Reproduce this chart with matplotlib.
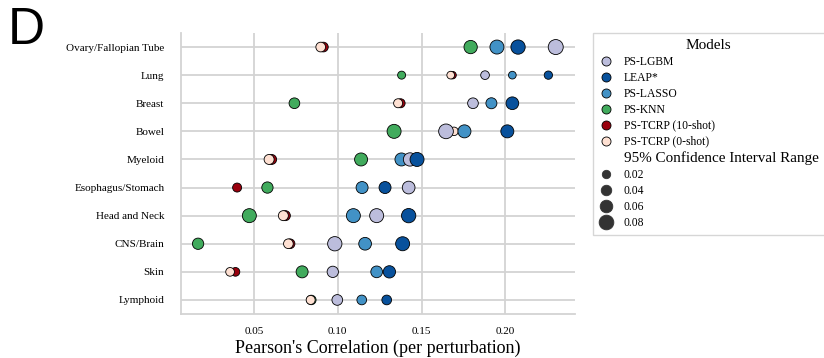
import numpy as np
import matplotlib
matplotlib.use("Agg")
import matplotlib.pyplot as plt
from matplotlib.lines import Line2D

nan = np.nan
categories = ["Ovary/Fallopian Tube", "Lung", "Breast", "Bowel", "Myeloid",
              "Esophagus/Stomach", "Head and Neck", "CNS/Brain", "Skin", "Lymphoid"]

models = ["PS-LGBM", "LEAP*", "PS-LASSO", "PS-KNN", "PS-TCRP (10-shot)", "PS-TCRP (0-shot)"]

lgbm = [0.2301, 0.1879, 0.1807, 0.1646, 0.1431, 0.1423, 0.1232, 0.0982, 0.0970, 0.0997]
leap = [0.2076, 0.2257, 0.2042, 0.2012, 0.1473, 0.1282, 0.1423, 0.1387, 0.1308, 0.1292]
lasso = [0.1950, 0.2042, 0.1917, 0.1756, 0.1380, 0.1145, 0.1093, 0.1163, 0.1232, 0.1143]
knn = [0.1793, 0.1381, 0.0741, 0.1336, 0.1139, 0.0580, 0.0472, 0.0166, 0.0787, 0.0842]
tcrp10 = [0.0914, 0.1685, 0.1375, nan, 0.0605, 0.0399, 0.0687, 0.0715, 0.0389, nan]
tcrp0 = [0.0898, 0.1674, 0.1360, 0.1694, 0.0590, nan, 0.0675, 0.0705, 0.0357, 0.0838]

ci_lgbm = [0.090, 0.027, 0.047, 0.087, 0.073, 0.067, 0.080, 0.083, 0.053, 0.047]
ci_leap = [0.083, 0.023, 0.067, 0.070, 0.080, 0.060, 0.083, 0.080, 0.063, 0.037]
ci_lasso = [0.080, 0.017, 0.050, 0.070, 0.070, 0.060, 0.080, 0.067, 0.057, 0.037]
ci_knn = [0.073, 0.020, 0.047, 0.080, 0.070, 0.053, 0.080, 0.053, 0.060, 0.035]
ci_tcrp10 = [0.037, 0.015, 0.030, nan, 0.040, 0.030, 0.040, 0.037, 0.027, nan]
ci_tcrp0 = [0.037, 0.017, 0.030, 0.025, 0.040, nan, 0.040, 0.037, 0.027, 0.030]

size_levels = [0.02, 0.04, 0.06, 0.08]
xticks = [0.05, 0.10, 0.15, 0.20]

colors = {
    "PS-LGBM": "#bcbddc",
    "LEAP*": "#08519c",
    "PS-LASSO": "#4292c6",
    "PS-KNN": "#41ab5d",
    "PS-TCRP (10-shot)": "#99000d",
    "PS-TCRP (0-shot)": "#fee0d2",
}
values = {"PS-LGBM": (lgbm, ci_lgbm), "LEAP*": (leap, ci_leap), "PS-LASSO": (lasso, ci_lasso),
          "PS-KNN": (knn, ci_knn), "PS-TCRP (10-shot)": (tcrp10, ci_tcrp10),
          "PS-TCRP (0-shot)": (tcrp0, ci_tcrp0)}
draw_order = ["PS-TCRP (10-shot)", "PS-KNN", "PS-TCRP (0-shot)", "PS-LASSO", "PS-LGBM", "LEAP*"]

plt.rcParams["font.family"] = ["Liberation Serif", "DejaVu Serif"]

DPI = 100
def diam_pt(ci):
    return (6.0 + 100.0 * np.asarray(ci, dtype=float)) * 72.0 / DPI

fig = plt.figure(figsize=(8.24, 3.58), dpi=DPI)
ax = fig.add_axes([181 / 824, 1 - 314 / 358, (575 - 181) / 824, (314 - 33) / 358])

y = np.arange(len(categories))
for z, m in enumerate(draw_order):
    v, ci = values[m]
    v = np.asarray(v, float)
    ci = np.asarray(ci, float)
    ok = ~np.isnan(v)
    ax.scatter(v[ok], y[ok], s=diam_pt(ci[ok]) ** 2, c=colors[m], edgecolors="black",
               linewidths=0.6, zorder=3 + z)

ax.set_ylim(len(categories) - 0.5, -0.5)
ax.set_xlim(0.0064, 0.2416)
ax.set_yticks(y)
ax.set_yticklabels(categories, fontsize=8)
ax.set_xticks(xticks)
ax.set_xticklabels([f"{t:.2f}" for t in xticks], fontsize=8)
ax.tick_params(axis="both", length=0)
ax.tick_params(axis="y", pad=12)
ax.tick_params(axis="x", pad=9)
ax.grid(True, color="#d3d3d3", linewidth=1.3, zorder=0)
ax.set_axisbelow(True)
for s in ["top", "right"]:
    ax.spines[s].set_visible(False)
for s in ["left", "bottom"]:
    ax.spines[s].set_color("#d3d3d3")
    ax.spines[s].set_linewidth(1.3)
ax.set_xlabel("Pearson's Correlation (per perturbation)", fontsize=13, labelpad=3)

handles = []
labels = []
for m in models:
    handles.append(Line2D([], [], linestyle="none", marker="o", markersize=6.5,
                          markerfacecolor=colors[m], markeredgecolor="black", markeredgewidth=0.6))
    labels.append(m)
handles.append(Line2D([], [], linestyle="none", marker=None))
labels.append("95% Confidence Interval Range")
for lv in size_levels:
    handles.append(Line2D([], [], linestyle="none", marker="o", markersize=diam_pt(lv) * 1.05,
                          markerfacecolor="#333333", markeredgecolor="#333333", markeredgewidth=0.6))
    labels.append(f"{lv:.2f}")

leg = fig.legend(handles, labels, loc="upper left", bbox_to_anchor=(593 / 824, 1 - 33 / 358),
                 borderaxespad=0, fontsize=8.4, title="Models", title_fontsize=11,
                 frameon=True, fancybox=False, edgecolor="#cccccc", labelspacing=0.34,
                 handlelength=1.2, handletextpad=0.95, borderpad=0.5)
leg.get_frame().set_linewidth(1.0)
for t in leg.get_texts():
    if t.get_text().startswith("95%"):
        t.set_fontsize(10.9)

fig.text(8 / 824, 1 - 6 / 358, "D", fontsize=37, family=["Liberation Sans", "DejaVu Sans"],
         va="top", ha="left")

fig.savefig("out.png", dpi=DPI)
